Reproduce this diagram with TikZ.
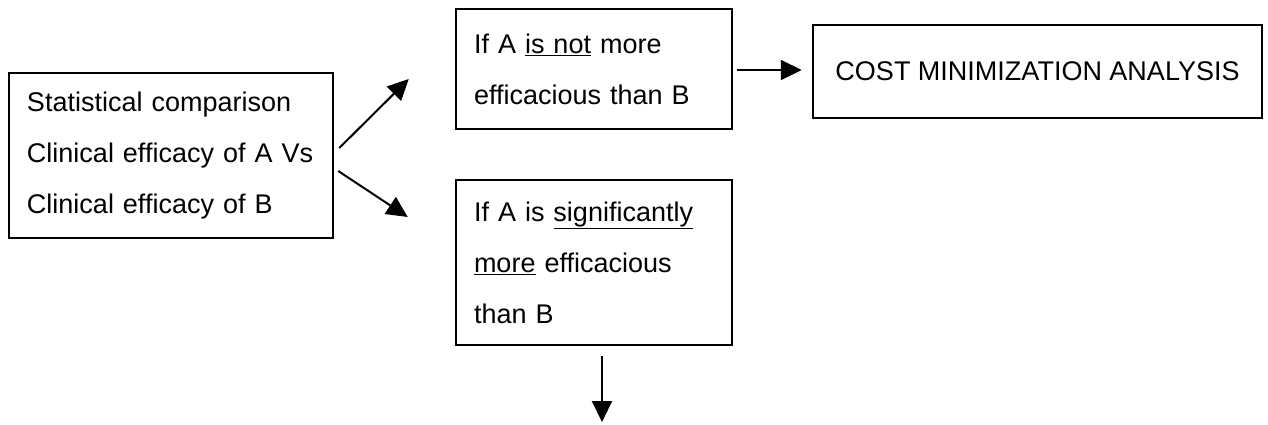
\documentclass[tikz,border=0pt]{standalone}
\usepackage{fontspec}
\setmainfont{Liberation Sans}
\usetikzlibrary{arrows.meta}
\begin{document}
\begin{tikzpicture}[x=1pt,y=-1pt,
  box/.style={draw, line width=2.5pt, inner xsep=18pt, inner ysep=0pt,
    font=\fontsize{27}{51}\selectfont},
  arr/.style={line width=2pt, -{Triangle[length=21pt,width=20pt]}}]
\useasboundingbox (0,0) rectangle (1268,424);
\node[box, minimum width=324pt, minimum height=165pt, text width=288pt, align=left]
  (left) at (171,155.5) {Statistical comparison\\Clinical efficacy of A Vs\\Clinical efficacy of B};
\node[box, minimum width=276pt, minimum height=120pt, text width=240pt, align=left]
  (top) at (594,69) {If A \underline{is not} more\\efficacious than B};
\node[box, minimum width=276pt, minimum height=165pt, text width=240pt, align=left]
  (low) at (594,262.5) {If A is \underline{significantly}\\\underline{more} efficacious\\than B};
\node[box, minimum width=449pt, minimum height=93pt, align=center]
  (cost) at (1037.5,71.5) {COST MINIMIZATION ANALYSIS};
\coordinate (next) at (602,422);
\draw[arr] ([xshift=5pt,yshift=7.5pt]left.east) -- ([xshift=-46pt,yshift=-10pt]top.west);
\draw[arr] ([xshift=4pt,yshift=-15.5pt]left.east) -- ([xshift=-47pt,yshift=45.5pt]low.west);
\draw[arr] ([xshift=4pt,yshift=-1pt]top.east) -- ([xshift=-10pt,yshift=1.5pt]cost.west);
\draw[arr] ([xshift=8pt,yshift=-10pt]low.south) -- (next);
\end{tikzpicture}
\end{document}
